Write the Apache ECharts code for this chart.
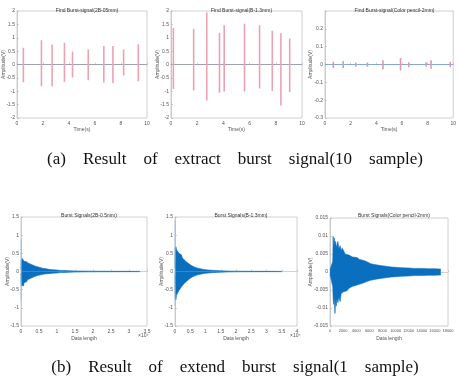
<!DOCTYPE html>
<html>
<head>
<meta charset="utf-8">
<script src="https://cdn.jsdelivr.net/npm/echarts@6/dist/echarts.min.js"></script>
<style>html,body{margin:0;padding:0;background:#fff}#c{width:459px;height:380px}</style>
</head>
<body>
<div id="c"></div>
<script>
// ---- Top row: burst spikes (time s, amplitude V) ----
const spikeX1 = [0.49, 1.88, 2.70, 3.65, 4.27, 5.48, 6.68, 7.38, 8.20, 9.33];
const spikeTop1 = [0.63, 0.91, 0.75, 0.81, 0.49, 0.56, 0.69, 0.69, 0.56, 0.76];
const spikeBot1 = [-0.66, -0.81, -0.81, -0.65, -0.49, -0.59, -0.67, -0.69, -0.41, -0.63];

const spikeX2 = [0.18, 1.73, 2.73, 3.70, 4.06, 5.61, 6.76, 7.73, 8.39, 9.06];
const spikeTop2 = [1.36, 1.34, 1.94, 1.18, 1.47, 1.52, 1.47, 1.26, 1.17, 0.97];
const spikeBot2 = [-0.92, -0.97, -1.35, -1.06, -1.01, -1.01, -0.90, -0.99, -1.53, -1.03];

const spikeX3 = [0.65, 1.42, 2.40, 3.31, 4.52, 5.89, 6.54, 7.88, 8.27, 9.77];
const spikeTop3 = [0.015, 0.019, 0.011, 0.011, 0.024, 0.037, 0.013, 0.012, 0.024, 0.015];
const spikeBot3 = [-0.019, -0.019, -0.013, -0.013, -0.026, -0.034, -0.015, -0.012, -0.024, -0.015];

// ---- Bottom row: initial thin peaks and signal envelopes ----
const peakX4 = [0.005], peakTop4 = [0.88], peakBot4 = [-0.80];
const peakX5 = [0.005], peakTop5 = [1.40], peakBot5 = [-0.95];

const envX4 = [0, 0.01, 0.03, 0.05, 0.07, 0.09, 0.11, 0.13, 0.15, 0.18, 0.21, 0.24, 0.27, 0.3, 0.34, 0.38, 0.42, 0.46, 0.5, 0.55, 0.6, 0.65, 0.7, 0.75, 0.8, 0.9, 1.0, 1.1, 1.2, 1.35, 1.5, 1.7, 1.9, 2.2, 2.6, 3.0, 3.3];
const envTop4 = [0.05, 0.30, 0.36, 0.31, 0.34, 0.28, 0.30, 0.25, 0.27, 0.22, 0.23, 0.19, 0.20, 0.16, 0.17, 0.13, 0.14, 0.11, 0.12, 0.09, 0.09, 0.07, 0.075, 0.06, 0.055, 0.045, 0.04, 0.03, 0.028, 0.02, 0.016, 0.012, 0.01, 0.008, 0.006, 0.005, 0.005];
const envBot4 = [-0.05, -0.38, -0.42, -0.35, -0.40, -0.30, -0.33, -0.27, -0.29, -0.23, -0.25, -0.2, -0.21, -0.17, -0.18, -0.14, -0.14, -0.11, -0.12, -0.09, -0.095, -0.07, -0.075, -0.06, -0.055, -0.045, -0.04, -0.03, -0.028, -0.02, -0.016, -0.012, -0.01, -0.008, -0.006, -0.005, -0.005];

const envX5 = [0, 0.01, 0.03, 0.05, 0.07, 0.09, 0.11, 0.13, 0.15, 0.18, 0.21, 0.24, 0.27, 0.3, 0.34, 0.38, 0.42, 0.46, 0.5, 0.55, 0.6, 0.65, 0.7, 0.75, 0.8, 0.9, 1.0, 1.1, 1.2, 1.35, 1.5, 1.7, 1.9, 2.2, 2.6, 3.0, 3.5];
const envTop5 = [0.1, 0.62, 0.68, 0.6, 0.64, 0.55, 0.58, 0.5, 0.52, 0.45, 0.46, 0.38, 0.4, 0.32, 0.33, 0.26, 0.27, 0.21, 0.2, 0.16, 0.15, 0.12, 0.11, 0.09, 0.085, 0.065, 0.05, 0.04, 0.035, 0.025, 0.02, 0.014, 0.01, 0.008, 0.006, 0.005, 0.005];
const envBot5 = [-0.1, -0.72, -0.78, -0.65, -0.7, -0.6, -0.62, -0.52, -0.55, -0.46, -0.48, -0.39, -0.41, -0.33, -0.34, -0.27, -0.27, -0.21, -0.2, -0.16, -0.15, -0.12, -0.11, -0.09, -0.085, -0.065, -0.05, -0.04, -0.035, -0.025, -0.02, -0.014, -0.01, -0.008, -0.006, -0.005, -0.005];

const envX6 = [0, 300, 420, 480, 550, 650, 760, 850, 950, 1050, 1200, 1350, 1550, 1700, 1850, 2060, 2300, 2600, 2900, 3100, 3400, 3700, 4120, 4500, 5150, 5700, 6200, 7000, 7700, 8500, 9300, 10000, 10800, 12000, 12900, 14000, 15000, 16000, 16900];
const envTop6 = [0.0006, 0.0006, 0.003, 0.0099, 0.0065, 0.0095, 0.0075, 0.0085, 0.0068, 0.0072, 0.0085, 0.0065, 0.0073, 0.006, 0.0066, 0.006, 0.005, 0.0055, 0.0047, 0.005, 0.0042, 0.0044, 0.004, 0.0035, 0.0032, 0.0028, 0.0023, 0.002, 0.0018, 0.0016, 0.0014, 0.0013, 0.0012, 0.0011, 0.001, 0.001, 0.0009, 0.0009, 0.0008];
const envBot6 = [-0.0006, -0.0006, -0.004, -0.0074, -0.009, -0.007, -0.0115, -0.008, -0.0095, -0.0075, -0.0085, -0.007, -0.0082, -0.006, -0.0065, -0.0055, -0.005, -0.0052, -0.0045, -0.0047, -0.004, -0.0042, -0.0036, -0.0034, -0.003, -0.0026, -0.0023, -0.002, -0.0018, -0.0016, -0.0014, -0.0013, -0.0012, -0.0011, -0.001, -0.001, -0.0009, -0.0009, -0.0008];

// ---- Text ----
const titles = [
  'Find Burst-signal(2B-05mm)', 'Find Burst-signal(B-1.3mm)', 'Find Burst-signal(Color pencil-2mm)',
  'Burst Signals(2B-0.5mm)', 'Burst Signals(B-1.3mm)', 'Burst Signals(Color pencil-2mm)'
];
const captionWordsA = ['(a)', 'Result', 'of', 'extract', 'burst', 'signal(10', 'sample)'];
const captionWordsB = ['(b)', 'Result', 'of', 'extend', 'burst', 'signal(1', 'sample)'];

// ---- Layout ----
const grids = [
  {left: 17, top: 11, width: 130, height: 107},
  {left: 171, top: 11, width: 131, height: 107},
  {left: 325, top: 11, width: 129, height: 107},
  {left: 21, top: 217, width: 126, height: 109},
  {left: 175, top: 217, width: 122, height: 109},
  {left: 330, top: 218, width: 118, height: 108}
];
const xRanges = [[0,10,2],[0,10,2],[0,10,2],[0,3.5,0.5],[0,4,0.5],[0,18000,2000]];
const yRanges = [[-2,2,0.5],[-2,2,0.5],[-0.3,0.3,0.1],[-1.5,1.5,0.5],[-1.5,1.5,0.5],[-0.015,0.015,0.005]];
const yNameGap = [11, 11, 12, 11, 11, 17];

const lc = '#c4c4c4';
const tc = '#555';

const chart = echarts.init(document.getElementById('c'), null, {renderer: 'canvas'});

const gridOpts = grids.map(g => Object.assign({show: true, borderColor: lc, borderWidth: 0.8, backgroundColor: '#fff', containLabel: false}, g));

const xAxes = xRanges.map((r, i) => ({
  type: 'value', gridIndex: i, min: r[0], max: r[1], interval: r[2],
  name: i < 3 ? 'Time(s)' : 'Data length', nameLocation: 'middle', nameGap: i < 3 ? 9 : 10,
  nameMoveOverlap: false,
  nameTextStyle: {fontSize: 5, color: tc, fontFamily: 'Liberation Sans'},
  axisLine: {show: true, lineStyle: {color: lc, width: 0.8}},
  axisTick: {show: true, inside: true, length: 2, lineStyle: {color: '#aaa', width: 0.5}},
  splitLine: {show: false},
  axisLabel: {fontSize: i === 5 ? 4 : 5, color: tc, margin: 3, fontFamily: 'Liberation Sans', hideOverlap: false, showMinLabel: true, showMaxLabel: true,
    formatter: v => String(Math.round(v * 1000) / 1000)}
}));

const yAxes = yRanges.map((r, i) => ({
  type: 'value', gridIndex: i, min: r[0], max: r[1], interval: r[2],
  name: 'Amplitude(V)', nameLocation: 'middle', nameGap: yNameGap[i], nameRotate: 90,
  nameMoveOverlap: false,
  nameTextStyle: {fontSize: 5, color: tc, fontFamily: 'Liberation Sans'},
  axisLine: {show: true, lineStyle: {color: lc, width: 0.8}},
  axisTick: {show: true, inside: true, length: 2, lineStyle: {color: '#aaa', width: 0.5}},
  splitLine: {show: false},
  axisLabel: {fontSize: 5, color: tc, margin: 2, fontFamily: 'Liberation Sans', hideOverlap: false,
    formatter: v => (i === 2 && v > 0.25) ? '' : String(Math.round(v * 100000) / 100000)}
}));

// vertical segments drawn as one line series broken by empty points
function spikeSeries(idx, xs, tops, bots, color, w) {
  const data = [];
  xs.forEach((x, k) => { data.push([x, tops[k]], [x, bots[k]], [x, '-']); });
  return {
    type: 'line', xAxisIndex: idx, yAxisIndex: idx, data: data, connectNulls: false,
    symbol: 'none', color: color, lineStyle: {color: color, width: w || 1, opacity: 1}, z: 3
  };
}
function zeroLine(idx, color, xmax) {
  return {type: 'line', xAxisIndex: idx, yAxisIndex: idx, data: [[0, 0], [xmax, 0]],
    symbol: 'none', color: color, lineStyle: {color: color, width: 0.8}, z: 2};
}
function envSeries(idx, xs, ys) {
  return {type: 'line', xAxisIndex: idx, yAxisIndex: idx, data: xs.map((x, k) => [x, ys[k]]),
    symbol: 'none', color: '#0b6fbf', lineStyle: {color: '#0b6fbf', width: 0.6},
    areaStyle: {color: '#0b6fbf', opacity: 1}, z: 2};
}

const series = [
  zeroLine(0, '#8f95a3', 10),
  spikeSeries(0, spikeX1, spikeTop1, spikeBot1, '#eba3b3', 1.6),
  zeroLine(1, '#8f95a3', 10),
  spikeSeries(1, spikeX2, spikeTop2, spikeBot2, '#eba3b3', 1.6),
  zeroLine(2, '#6f9fd8', 10),
  spikeSeries(2, spikeX3, spikeTop3, spikeBot3, '#df98aa', 1.6),
  spikeSeries(3, peakX4, peakTop4, peakBot4, '#8dbbe6', 0.8),
  envSeries(3, envX4, envTop4), envSeries(3, envX4, envBot4),
  spikeSeries(4, peakX5, peakTop5, peakBot5, '#8dbbe6', 0.8),
  envSeries(4, envX5, envTop5), envSeries(4, envX5, envBot5),
  envSeries(5, envX6, envTop6), envSeries(5, envX6, envBot6)
];

const titleOpts = titles.map((t, i) => ({
  text: t, left: grids[i].left + grids[i].width / 2, textAlign: 'center',
  top: i < 3 ? 3 : 208,
  textStyle: {fontSize: 5, fontWeight: 'normal', color: '#333', fontFamily: 'Liberation Sans'}
}));
const gap = '    ';
titleOpts.push({text: captionWordsA.join(gap), left: 230, textAlign: 'center', top: 146,
  textStyle: {fontSize: 17, fontWeight: 'normal', color: '#111', fontFamily: 'Liberation Serif'}});
titleOpts.push({text: captionWordsB.join(gap), left: 230, textAlign: 'center', top: 354,
  textStyle: {fontSize: 17, fontWeight: 'normal', color: '#111', fontFamily: 'Liberation Serif'}});

const graphic = [
  {type: 'text', left: 138, top: 333, style: {text: '×10⁴', fontSize: 5, fill: tc, fontFamily: 'Liberation Sans'}},
  {type: 'text', left: 290, top: 333, style: {text: '×10⁴', fontSize: 5, fill: tc, fontFamily: 'Liberation Sans'}}
];

chart.setOption({
  animation: false,
  backgroundColor: '#fff',
  title: titleOpts,
  grid: gridOpts,
  xAxis: xAxes,
  yAxis: yAxes,
  series: series,
  graphic: graphic
});
</script>
</body>
</html>
